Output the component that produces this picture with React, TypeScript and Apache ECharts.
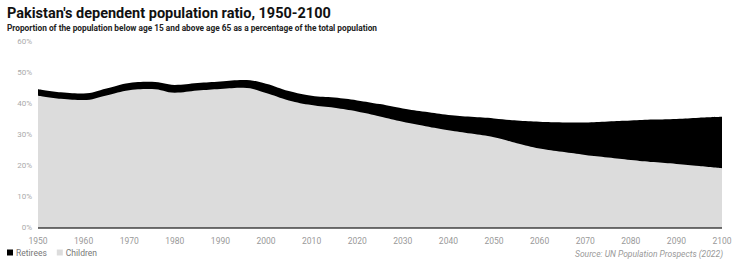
import React, { useEffect, useRef } from "react";
import * as echarts from "echarts";

const years = [1950,1955,1960,1965,1970,1975,1980,1985,1990,1995,2000,2005,2010,2015,2020,2025,2030,2035,2040,2045,2050,2055,2060,2065,2070,2075,2080,2085,2090,2095,2100];
const totalDependents = [44.6,43.6,43.2,44.8,46.6,47.0,46.0,46.6,47.1,47.6,46.4,44.0,42.5,41.9,41.0,39.8,38.4,37.3,36.3,35.7,35.2,34.5,34.1,33.9,33.9,34.2,34.5,34.8,35.0,35.4,35.7];
const children = [42.5,41.5,41.1,42.6,44.3,44.7,43.5,44.2,44.7,45.1,43.4,41.0,39.5,38.6,37.4,35.8,34.1,32.7,31.4,30.3,29.1,27.2,25.5,24.4,23.4,22.6,21.8,21.1,20.5,19.8,19.1];
const yTicks = [0, 10, 20, 30, 40, 50, 60];

const TITLE = "Pakistan's dependent population ratio, 1950-2100";
const SUBTITLE = "Proportion of the population below age 15 and above age 65 as a percentage of the total population";
const SOURCE = "Source: UN Population Prospects (2022)";

export default function App() {
  const ref = useRef<HTMLDivElement>(null);
  useEffect(() => {
    const chart = echarts.init(ref.current!, null, { renderer: "svg" });
    const font = "Roboto, 'Noto Sans', sans-serif";
    chart.setOption({
      animation: false,
      textStyle: { fontFamily: font },
      title: [
        { text: TITLE, left: 2, top: 1, textStyle: { fontSize: 14.5, fontWeight: "bold", color: "#111", fontFamily: font } },
        { text: SUBTITLE, left: 2, top: 19, textStyle: { fontSize: 8.3, fontWeight: "bold", color: "#222", fontFamily: font } },
      ],
      grid: { left: 38, right: 20, top: 41.5, bottom: 31.5 },
      legend: {
        left: 2, bottom: -3, itemWidth: 6, itemHeight: 6, itemGap: 10, icon: "rect",
        textStyle: { fontSize: 8.5, color: "#777", padding: [0, 0, 0, -2] },
        data: [
          { name: "Retirees", itemStyle: { color: "#000" } },
          { name: "Children", itemStyle: { color: "#dcdcdc" } },
        ],
      },
      xAxis: {
        type: "value", min: 1950, max: 2100, interval: 10,
        axisLine: { show: false }, axisTick: { show: false }, splitLine: { show: false },
        axisLabel: { fontSize: 8.5, color: "#999", margin: 9, formatter: (v: number) => String(v) },
      },
      yAxis: {
        type: "value", min: yTicks[0], max: yTicks[yTicks.length - 1], interval: 10,
        axisLine: { show: false }, axisTick: { show: false },
        splitLine: { show: false },
        axisLabel: { fontSize: 8, color: "#aaa", margin: 6, formatter: "{value}%" },
      },
      graphic: [
        { type: "text", right: 19, bottom: 1, style: { text: SOURCE, fontSize: 8.5, fontStyle: "italic", fill: "#999", fontFamily: font } },
      ],
      series: [
        {
          name: "Retirees", type: "line", smooth: 0.4, symbol: "none", z: 2,
          data: years.map((y, i) => [y, totalDependents[i]]),
          lineStyle: { width: 0 }, areaStyle: { color: "#000", opacity: 1 }, itemStyle: { color: "#000" },
        },
        {
          name: "Children", type: "line", smooth: 0.4, symbol: "none", z: 3,
          data: years.map((y, i) => [y, children[i]]),
          lineStyle: { width: 0 }, areaStyle: { color: "#dcdcdc", opacity: 1 }, itemStyle: { color: "#dcdcdc" },
          markLine: {
            silent: true, symbol: "none", label: { show: false },
            lineStyle: { color: "#444", width: 1.5, type: "solid" },
            data: [{ yAxis: 0 }],
          },
        },
      ],
    });
    return () => chart.dispose();
  }, []);
  return <div ref={ref} style={{ width: 742, height: 259, position: "absolute", left: 0, top: 0 }} />;
}
